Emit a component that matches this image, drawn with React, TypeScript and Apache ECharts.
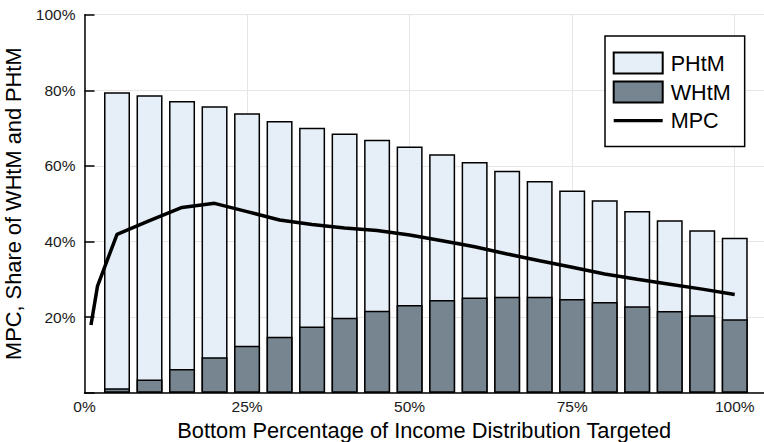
import React, { useEffect, useRef } from "react";
import * as echarts from "echarts";

// Bottom percentage of income distribution targeted (bar positions)
const targetPct = [5, 10, 15, 20, 25, 30, 35, 40, 45, 50, 55, 60, 65, 70, 75, 80, 85, 90, 95, 100];
// Share of wealthy hand-to-mouth (dark bars)
const whtmShare = [1.2, 3.5, 6.3, 9.4, 12.4, 14.8, 17.5, 19.8, 21.7, 23.2, 24.5, 25.2, 25.4, 25.4, 24.8, 24.0, 22.9, 21.6, 20.5, 19.4];
// Total hand-to-mouth share (top of light PHtM bars = WHtM + PHtM)
const totalHtmShare = [79.5, 78.7, 77.2, 75.8, 73.9, 71.9, 70.1, 68.6, 66.9, 65.1, 63.1, 61.0, 58.7, 56.0, 53.5, 50.9, 48.1, 45.6, 43.0, 41.0];
// MPC line
const mpcX = [1, 2, 5, 10, 15, 20, 25, 30, 35, 40, 45, 50, 55, 60, 65, 70, 75, 80, 85, 90, 95, 100];
const mpcY = [17.9, 28.2, 41.9, 45.5, 49.0, 50.1, 47.9, 45.7, 44.5, 43.6, 42.9, 41.7, 40.2, 38.6, 36.7, 34.9, 33.2, 31.4, 30.0, 28.7, 27.4, 26.0];
// Tick labels
const xTickValues = [0, 25, 50, 75, 100];
const yTickValues = [20, 40, 60, 80, 100];

const FONT = "'Liberation Sans', Arial, Helvetica, sans-serif";
const LINE_ICON = "path://M0,0 L0.01,0 L0.01,0.01 Z M0,9 L49,9 L49,12.2 L0,12.2 Z M48.99,20.99 L49,20.99 L49,21 Z";

export default function App() {
  const ref = useRef<HTMLDivElement | null>(null);

  useEffect(() => {
    if (!ref.current) return;
    const chart = echarts.init(ref.current, undefined, { renderer: "svg" });
    const option: any = {
      animation: false,
      backgroundColor: "#ffffff",
      textStyle: { fontFamily: FONT },
      grid: {
        left: 84.5,
        right: 0,
        top: 14.7,
        bottom: 49.3,
        containLabel: false,
        outerBoundsMode: "none",
      },
      legend: {
        data: [
          { name: "PHtM", icon: "rect" },
          { name: "WHtM", icon: "rect" },
          { name: "MPC", icon: LINE_ICON },
        ],
        orient: "vertical",
        left: 605,
        top: 36,
        padding: [15.5, 14, 15, 7.7],
        itemWidth: 49,
        itemHeight: 21,
        itemGap: 6,
        backgroundColor: "#ffffff",
        borderColor: "#000000",
        borderWidth: 1.5,
        borderRadius: 0,
        textStyle: {
          fontFamily: FONT,
          fontSize: 21.6,
          color: "#000000",
          lineHeight: 21,
          padding: [0, 0, 0, 3],
        },
      },
      xAxis: {
        type: "value",
        min: 0,
        max: 104.5,
        interval: 25,
        name: "Bottom Percentage of Income Distribution Targeted",
        nameLocation: "middle",
        nameGap: 27,
        nameTextStyle: { fontFamily: FONT, fontSize: 21.8, color: "#000000" },
        axisLine: { show: true, onZero: false, lineStyle: { color: "#000000", width: 1.5 } },
        axisTick: { show: false },
        axisLabel: {
          fontFamily: FONT,
          fontSize: 15.5,
          color: "#1a1a1a",
          margin: 6,
          showMaxLabel: true,
          formatter: (v: number) => (xTickValues.indexOf(v) >= 0 ? `${v}%` : ""),
        },
        splitLine: { show: true, lineStyle: { color: "#e6e6e6", width: 1 } },
      },
      yAxis: {
        type: "value",
        min: 0,
        max: 100,
        interval: 20,
        name: "MPC, Share of WHtM and PHtM",
        nameLocation: "middle",
        nameGap: 56,
        nameTextStyle: { fontFamily: FONT, fontSize: 21.8, color: "#000000" },
        axisLine: { show: true, lineStyle: { color: "#000000", width: 1.5 } },
        axisTick: { show: true, inside: true, length: 10, lineStyle: { color: "#000000", width: 1.5 } },
        axisLabel: {
          fontFamily: FONT,
          fontSize: 15.5,
          color: "#1a1a1a",
          margin: 9,
          formatter: (v: number) => (yTickValues.indexOf(v) >= 0 ? `${v}%` : ""),
        },
        splitLine: { show: true, lineStyle: { color: "#e6e6e6", width: 1 } },
      },
      series: [
        {
          name: "PHtM",
          type: "bar",
          barWidth: 26,
          barGap: "-100%",
          data: targetPct.map((x, i) => [x, totalHtmShare[i]]),
          itemStyle: { color: "#e6eff8", borderColor: "#000000", borderWidth: 1.5 },
          z: 2,
        },
        {
          name: "WHtM",
          type: "bar",
          barWidth: 26,
          barGap: "-100%",
          data: targetPct.map((x, i) => [x, whtmShare[i]]),
          itemStyle: { color: "#778591", borderColor: "#000000", borderWidth: 1.5 },
          z: 3,
        },
        {
          name: "MPC",
          type: "line",
          data: mpcX.map((x, i) => [x, mpcY[i]]),
          symbol: "none",
          lineStyle: { color: "#000000", width: 3.5 },
          itemStyle: { color: "#000000" },
          z: 5,
        },
      ],
    };
    chart.setOption(option);
    return () => chart.dispose();
  }, []);

  return <div ref={ref} style={{ width: 764, height: 442, position: "absolute", left: 0, top: 0 }} />;
}
